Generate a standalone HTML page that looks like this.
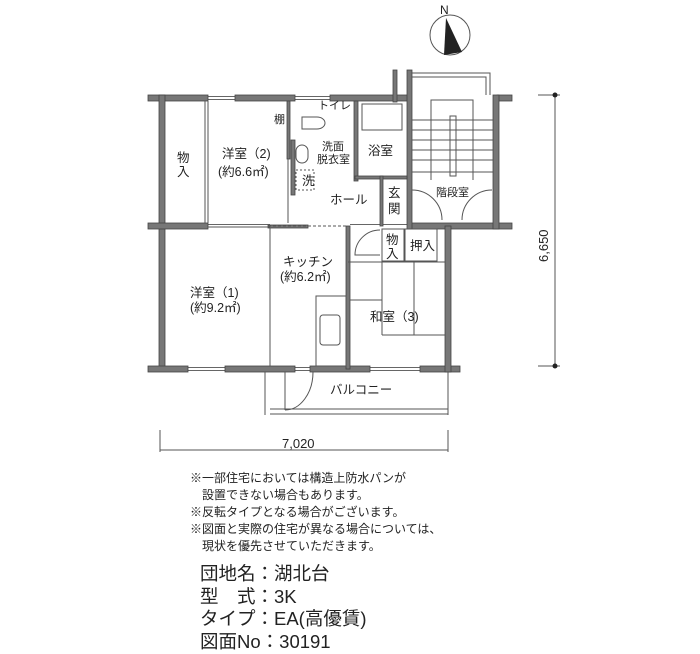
<!DOCTYPE html>
<html><head><meta charset="utf-8"><style>
body{margin:0;background:#fff;width:700px;height:650px;overflow:hidden;font-family:"Liberation Sans","Noto Sans CJK JP",sans-serif}
svg{position:absolute;left:0;top:0}
.n{position:absolute;left:190px;font-size:12px;color:#222;line-height:17px;top:470px;white-space:pre}
.b{position:absolute;left:200px;top:563px;font-size:18.5px;line-height:22.7px;color:#222;white-space:pre}
</style></head><body>
<svg width="700" height="650" viewBox="0 0 700 650" font-family="Liberation Sans, Noto Sans CJK JP, sans-serif" fill="#222">
<g fill="none" stroke="#666" stroke-width="1">
<path d="M208 96.5 H235 M208 99.5 H235 M295 96.5 H330 M295 99.5 H330"/>
<path d="M188 367.5 H225 M188 370.5 H225 M295 367.5 H310 M295 370.5 H310 M370 367.5 H420 M370 370.5 H420"/>
<path d="M208 224.5 H270 M350 224.5 H408"/>
</g>
<g fill="#777" stroke="#444" stroke-width="0.8">
<rect x="148" y="95" width="60" height="6"/><rect x="235" y="95" width="60" height="6"/><rect x="330" y="95" width="80" height="6"/>
<rect x="497" y="95" width="15" height="6"/>
<rect x="159" y="95" width="6" height="275"/>
<rect x="148" y="223" width="60" height="6"/><rect x="408" y="223" width="104" height="6"/>
<rect x="148" y="366" width="40" height="6"/><rect x="225" y="366" width="70" height="6"/><rect x="310" y="366" width="60" height="6"/><rect x="420" y="366" width="40" height="6"/>
<rect x="445" y="226" width="6" height="146"/>
<rect x="407" y="70" width="5" height="159"/><rect x="493" y="95" width="6" height="134"/>
<rect x="393" y="70" width="4" height="32"/>
<rect x="287" y="101" width="3" height="58"/><rect x="354" y="101" width="4" height="80"/>
<rect x="346" y="226" width="4" height="143"/><rect x="291" y="140" width="4" height="55"/>
<rect x="355" y="176" width="52" height="3"/><rect x="380" y="176" width="3" height="50"/>
<rect x="268" y="225" width="40" height="3"/>
</g>
<g fill="none" stroke="#555" stroke-width="1">
<line x1="205" y1="101" x2="205" y2="223"/><line x1="208" y1="101" x2="208" y2="223"/>
<line x1="288" y1="159" x2="288" y2="223"/>
<line x1="208" y1="227" x2="270" y2="227"/>
<line x1="270" y1="228" x2="270" y2="366"/>
<line x1="268" y1="226" x2="346" y2="226" stroke-dasharray="3 2"/>
<rect x="316" y="296" width="30" height="70"/><rect x="320" y="315" width="20" height="30" rx="3"/>
<rect x="362" y="104" width="40" height="26"/>
<rect x="296" y="145" width="12" height="18" rx="6"/>
<rect x="296" y="170" width="18" height="20" stroke-dasharray="2 2"/>
<path d="M302 117 h15 a8 6 0 0 1 0 12 h-15 z"/>
<line x1="348" y1="262" x2="445" y2="262"/>
<line x1="350" y1="300" x2="382" y2="300"/><line x1="382" y1="262" x2="382" y2="335"/>
<line x1="382" y1="335" x2="445" y2="335"/><line x1="414" y1="262" x2="414" y2="335"/>
<rect x="382" y="229" width="22" height="32"/><rect x="405" y="229" width="32" height="32"/>
<path d="M380 230 a25 25 0 0 0 -25 25 h25"/>
<path d="M412 190 a30 30 0 0 1 30 30 M492 190 a30 30 0 0 0 -30 30"/>
<line x1="412" y1="120" x2="493" y2="120"/><line x1="412" y1="130" x2="493" y2="130"/>
<line x1="412" y1="140" x2="493" y2="140"/><line x1="412" y1="150" x2="493" y2="150"/>
<line x1="412" y1="160" x2="493" y2="160"/><line x1="412" y1="172" x2="493" y2="172"/>
<rect x="450" y="116" width="6" height="60"/>
<path d="M412 73 H490 V95 M412 77 H486 V95"/>
<path d="M431 180 V100 H473 V180"/>
<path d="M265 372 V415 M448 372 V415 M270 409 H448 M270 414 H448"/>
<path d="M285 372 V410 M285 410 a28 38 0 0 0 28 -38"/>
<line x1="555" y1="95" x2="555" y2="366"/><line x1="538" y1="95" x2="560" y2="95"/><line x1="538" y1="366" x2="560" y2="366"/>
<line x1="160" y1="450" x2="448" y2="450"/><line x1="160" y1="430" x2="160" y2="452"/><line x1="448" y1="430" x2="448" y2="452"/>
<circle cx="450" cy="35" r="20"/>
</g>
<circle cx="555" cy="95" r="2.5"/><circle cx="555" cy="366" r="2.5"/>
<polygon points="446,18 462,52 444,55"/>
<text x="440" y="14" font-size="12">N</text>
<g font-size="12.5">
<text x="177" y="162">物</text><text x="177" y="176">入</text>
<text x="222" y="158">洋室（2)</text><text x="218" y="176">(約6.6㎡)</text>
<text x="274" y="123" font-size="11">棚</text>
<text x="318" y="109" font-size="11">トイレ</text>
<text x="322" y="150" font-size="11">洗面</text><text x="317" y="163" font-size="11">脱衣室</text>
<text x="302" y="185">洗</text>
<text x="368" y="155">浴室</text>
<text x="330" y="204">ホール</text>
<text x="388" y="197">玄</text><text x="388" y="213">関</text>
<text x="436" y="196" font-size="11">階段室</text>
<text x="386" y="244">物</text><text x="386" y="258">入</text>
<text x="410" y="250">押入</text>
<text x="283" y="266">キッチン</text><text x="280" y="281">(約6.2㎡)</text>
<text x="190" y="297">洋室（1)</text><text x="190" y="312">(約9.2㎡)</text>
<text x="370" y="321">和室（3)</text>
<text x="330" y="394">バルコニー</text>
<text x="282" y="448" font-size="13">7,020</text>
<text transform="translate(548,262) rotate(-90)" font-size="13">6,650</text>
</g>
</svg>
<div class="n">※一部住宅においては構造上防水パンが
　設置できない場合もあります。
※反転タイプとなる場合がございます。
※図面と実際の住宅が異なる場合については、
　現状を優先させていただきます。</div>
<div class="b">団地名：湖北台
型　式：3K
タイプ：EA(高優賃)
図面No：30191</div>
</body></html>
